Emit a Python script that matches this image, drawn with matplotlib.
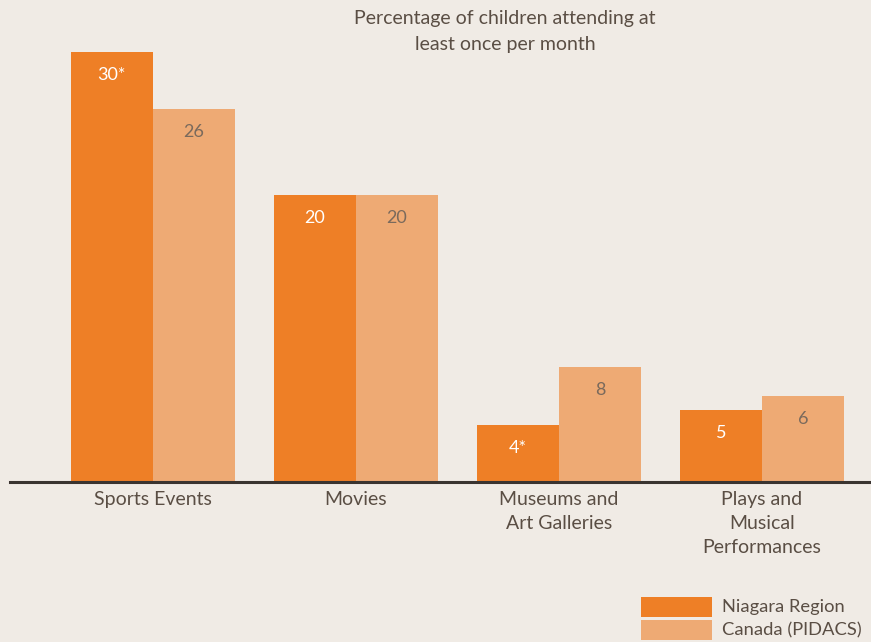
import matplotlib
matplotlib.use("Agg")
import matplotlib.pyplot as plt
from matplotlib.patches import Rectangle
import numpy as np

categories = ["Sports Events", "Movies", "Museums and\nArt Galleries", "Plays and\nMusical\nPerformances"]
niagara = [30, 20, 4, 5]
canada = [26, 20, 8, 6]
niagara_labels = ["30*", "20", "4*", "5"]
canada_labels = ["26", "20", "8", "6"]
title = "Percentage of children attending at\nleast once per month"
series_names = ["Niagara Region", "Canada (PIDACS)"]

BG = "#f0ebe5"
C1 = "#ee7f26"
C2 = "#eeaa74"
TXT = "#5a4e44"
plt.rcParams['font.family'] = ['Lato', 'DejaVu Sans']

fig = plt.figure(figsize=(8.71, 6.42), dpi=100, facecolor=BG)
ax = fig.add_axes([10/871, (642-482)/642, 861/871, 482/642])
ax.set_facecolor(BG)
x = np.arange(len(categories))
w = 0.405
ax.bar(x - w/2, niagara, width=w, color=C1, zorder=2)
ax.bar(x + w/2, canada, width=w, color=C2, zorder=2)
ax.set_xlim(-0.704, 3.537)
ax.set_ylim(0, 33.63)
for s in ["top", "right", "left"]:
    ax.spines[s].set_visible(False)
ax.spines["bottom"].set_color("#3a3430")
ax.spines["bottom"].set_linewidth(2.2)
ax.set_yticks([])
ax.set_xticks([])

for i in range(len(categories)):
    ax.annotate(niagara_labels[i], (x[i] - w/2, niagara[i]), xytext=(0, -23),
                textcoords="offset pixels", ha="center", va="center", color="white", fontsize=13)
    ax.annotate(canada_labels[i], (x[i] + w/2, canada[i]), xytext=(0, -23),
                textcoords="offset pixels", ha="center", va="center", color="#7a6a5c", fontsize=13)
    ax.annotate(categories[i], (x[i], 0), xytext=(0, -9), textcoords="offset pixels",
                ha="center", va="top", color=TXT, fontsize=14, linespacing=1.5,
                annotation_clip=False)

fig.text(505/871, 1 - 10/642, title, ha="center", va="top", color=TXT, fontsize=14, linespacing=1.65)

# legend
for k, (name, col) in enumerate(zip(series_names, [C1, C2])):
    y0 = 1 - (617 + 23*k)/642
    fig.patches.append(Rectangle((641/871, y0), 71/871, 20/642, transform=fig.transFigure,
                                 facecolor=col, edgecolor="none"))
    fig.text(722/871, y0 + 10/642, name, ha="left", va="center", color=TXT, fontsize=13.2)

fig.savefig("out.png", dpi=100, facecolor=BG)
